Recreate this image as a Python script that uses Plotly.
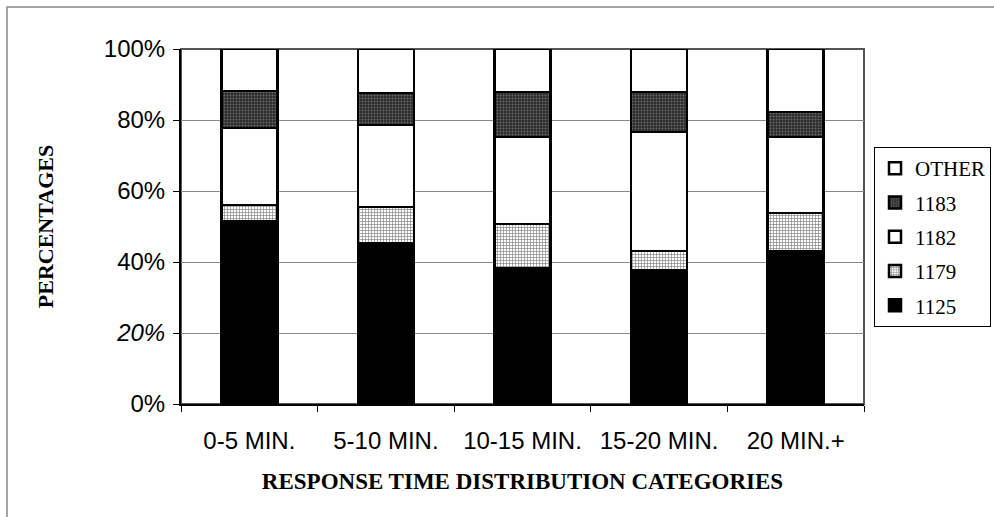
import plotly.graph_objects as go

categories = ["0-5 MIN.", "5-10 MIN.", "10-15 MIN.", "15-20 MIN.", "20 MIN.+"]
v1125 = [51.5, 45.4, 38.3, 37.7, 43.1]
v1179 = [4.6, 10.1, 12.4, 5.4, 10.7]
v1182 = [21.6, 23.1, 24.5, 33.5, 21.4]
v1183 = [10.5, 9.0, 12.7, 11.3, 7.1]
vother = [11.8, 12.4, 12.1, 12.1, 17.7]
y_ticks = [0, 20, 40, 60, 80, 100]
y_ticktext = ["0%", "<i>20%</i>", "40%", "60%", "80%", "100%"]

series = [
    ("1125", v1125, dict(color="black")),
    ("1179", v1179, dict(color="white", pattern=dict(shape="+", fgcolor="#222", bgcolor="white", size=3, solidity=0.45))),
    ("1182", v1182, dict(color="white")),
    ("1183", v1183, dict(color="#333", pattern=dict(shape=".", fgcolor="#aaa", bgcolor="#2a2a2a", size=3, solidity=0.35))),
    ("OTHER", vother, dict(color="white")),
]

fig = go.Figure()
n = len(series)
for i, (name, vals, m) in enumerate(series):
    marker = dict(m)
    marker["line"] = dict(color="black", width=2.5)
    fig.add_trace(go.Bar(x=categories, y=vals, name=name, marker=marker,
                         legendgroup=name, legendrank=n - i, width=0.41))

W, H = 994, 517
L, R, T, B = 181, 130, 49, 113
pw, ph = W - L - R, H - T - B

def px(x):
    return (x - L) / pw

def py(y):
    return (H - B - y) / ph

fig.update_layout(
    width=W, height=H,
    margin=dict(l=L, r=R, t=T, b=B, autoexpand=False),
    barmode="stack",
    bargap=0.59,
    plot_bgcolor="white", paper_bgcolor="white",
    font=dict(family="Liberation Sans", size=22, color="black"),
    showlegend=True,
    legend=dict(
        x=px(874), y=py(147), xanchor="left", yanchor="top",
        traceorder="grouped", tracegroupgap=4,
        font=dict(family="Liberation Serif", size=21, color="black"),
        bordercolor="black", borderwidth=1, bgcolor="white",
        itemwidth=30,
    ),
    xaxis=dict(
        type="category", tickson="boundaries", ticks="outside", ticklen=6,
        tickcolor="black", showline=True, linecolor="black", linewidth=2,
        showgrid=False, ticklabelstandoff=14,
        tickfont=dict(family="Liberation Sans", size=24),
        title=dict(text="<b>RESPONSE TIME DISTRIBUTION CATEGORIES</b>",
                   font=dict(family="Liberation Serif", size=23), standoff=20),
    ),
    yaxis=dict(
        range=[0, 100], tickvals=y_ticks, ticktext=y_ticktext,
        ticks="outside", ticklen=6, tickcolor="black",
        showline=True, linecolor="black", linewidth=2,
        showgrid=True, gridcolor="#888", gridwidth=1,
        ticklabelstandoff=3,
        tickfont=dict(family="Liberation Sans", size=24),
        title=dict(text="<b>PERCENTAGES</b>",
                   font=dict(family="Liberation Serif", size=22), standoff=44),
        zeroline=False,
    ),
    shapes=[
        dict(type="rect", xref="paper", yref="paper", x0=0, x1=1, y0=0, y1=1,
             line=dict(color="#555", width=2), layer="below"),
        dict(type="rect", xref="paper", yref="paper", x0=px(7), x1=px(1000),
             y0=py(520), y1=py(7), line=dict(color="#888", width=1.5), layer="below"),
    ],
)

fig.write_html("out.html")
